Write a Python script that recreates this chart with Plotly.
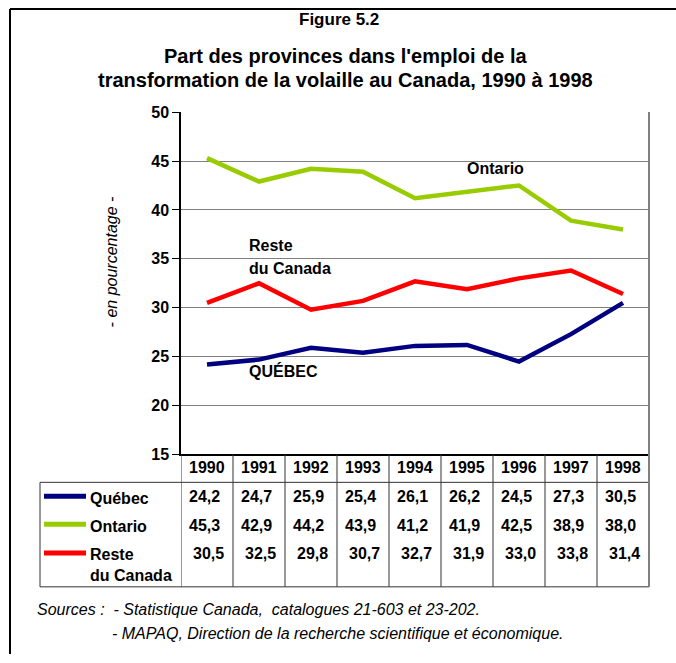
import plotly.graph_objects as go

W, H = 676, 663

years = [1990, 1991, 1992, 1993, 1994, 1995, 1996, 1997, 1998]
quebec = [24.2, 24.7, 25.9, 25.4, 26.1, 26.2, 24.5, 27.3, 30.5]
ontario = [45.3, 42.9, 44.2, 43.9, 41.2, 41.9, 42.5, 38.9, 38.0]
reste = [30.5, 32.5, 29.8, 30.7, 32.7, 31.9, 33.0, 33.8, 31.4]

series_names = ["Québec", "Ontario", "Reste<br>du Canada"]
series_colors = ["#000080", "#99CC00", "#FF0000"]
y_ticks = [15, 20, 25, 30, 35, 40, 45, 50]

FONT = "Arial, Liberation Sans, sans-serif"
FS = 16

# vertical calibration of the photographed page
V_OFF, V_SCALE = 6.4, 0.979


def X(px):
    return px / W


def Y(py):
    spec = (py - V_OFF) / V_SCALE
    return 1 - spec / H


fig = go.Figure()
for name, vals, col in zip(series_names, [quebec, ontario, reste], series_colors):
    fig.add_trace(go.Scatter(x=years, y=vals, mode="lines", name=name,
                             line=dict(color=col, width=4.5), showlegend=False,
                             hoverinfo="skip"))

ann = []
shapes = []


def txt(text, px, py, size=FS, xanchor="center", italic=False, bold=True, **kw):
    t = text
    if bold:
        t = "<b>" + t + "</b>"
    if italic:
        t = "<i>" + t + "</i>"
    d = dict(text=t, x=X(px), y=Y(py), xref="paper", yref="paper", showarrow=False,
             xanchor=xanchor, yanchor="middle",
             font=dict(size=size, color="black", family=FONT))
    d.update(kw)
    ann.append(d)


# Titles
txt("Figure 5.2", 339, 18, size=17)
txt("Part des provinces dans l'emploi de la", 346, 55, size=20)
txt("transformation de la volaille au Canada, 1990 à 1998", 346, 79, size=20)

# Y axis title
txt("- en pourcentage -", 111, 262, size=16, italic=True, bold=False, textangle=-90)

# In-plot labels
txt("Ontario", 495, 168)
txt("Reste", 247, 245, xanchor="left")
txt("du Canada", 247, 268, xanchor="left")
txt("QUÉBEC", 247, 371, xanchor="left")

# Data table
TBL_TOP, HDR_BOT, TBL_BOT = 455, 483, 588
TBL_LEFT, TBL_RIGHT = 40, 649
tfont = dict(size=FS, color="black", family=FONT)
for i, yr in enumerate(years):
    ann.append(dict(text=f"<b>{yr}</b>", x=yr, y=Y(468), xref="x", yref="paper",
                    xanchor="center", yanchor="middle", showarrow=False, font=tfont))
    for vals, py, xs in [(quebec, 497, -3), (ontario, 526, -3), (reste, 555, 1)]:
        ann.append(dict(text="<b>" + f"{vals[i]:.1f}".replace(".", ",") + "</b>", x=yr,
                        y=Y(py), xref="x", yref="paper", xshift=xs, showarrow=False,
                        xanchor="center", yanchor="middle", font=tfont))

row_y = [499, 527, 556]
for (name, col, py) in zip(series_names, series_colors, row_y):
    if "<br>" in name:
        first, second = name.split("<br>")
        txt(first, 88, py, xanchor="left")
        txt(second, 88, py + 21, xanchor="left")
    else:
        txt(name, 88, py, xanchor="left")
    shapes.append(dict(type="line", xref="paper", yref="paper", x0=X(44), x1=X(86),
                       y0=Y(py - 2), y1=Y(py - 2), line=dict(color=col, width=5)))

line_col = "#333333"
# table box (data rows)
shapes.append(dict(type="rect", xref="paper", yref="paper", x0=X(TBL_LEFT), x1=X(TBL_RIGHT),
                   y0=Y(HDR_BOT), y1=Y(TBL_BOT), line=dict(color=line_col, width=1)))
# vertical separators
for yr in years:
    shapes.append(dict(type="line", xref="x", yref="paper", x0=yr - 0.5, x1=yr - 0.5,
                       y0=Y(TBL_TOP), y1=Y(TBL_BOT), line=dict(color=line_col, width=1)))
# right border (plot + table)
shapes.append(dict(type="line", xref="paper", yref="paper", x0=X(649), x1=X(649),
                   y0=Y(111), y1=Y(TBL_BOT), line=dict(color="#808080", width=2)))

# Outer frame (left and top)
shapes.append(dict(type="line", xref="paper", yref="paper", x0=X(10), x1=X(10),
                   y0=Y(7.5), y1=0, line=dict(color="black", width=2)))
shapes.append(dict(type="line", xref="paper", yref="paper", x0=X(10), x1=1,
                   y0=Y(7.5), y1=Y(7.5), line=dict(color="black", width=2)))

# Sources
txt("Sources :  - Statistique Canada,  catalogues 21-603 et 23-202.", 35, 611, size=16,
    xanchor="left", italic=True, bold=False)
txt("- MAPAQ, Direction de la recherche scientifique et économique.", 110, 635, size=16,
    xanchor="left", italic=True, bold=False)

fig.update_layout(
    width=W, height=H, autosize=False,
    margin=dict(l=0, r=0, t=0, b=0, pad=0),
    paper_bgcolor="white", plot_bgcolor="white",
    annotations=ann, shapes=shapes,
    xaxis=dict(domain=[X(181), X(649)], range=[1989.5, 1998.5], showticklabels=False,
               showgrid=False, zeroline=False, showline=True, linecolor="black",
               linewidth=1.5, ticks=""),
    yaxis=dict(domain=[Y(455), Y(111)], range=[15, 50], tickvals=y_ticks,
               showgrid=True, gridcolor="#808080", gridwidth=1, zeroline=False,
               showline=True, linecolor="black", linewidth=1.5, ticks="outside",
               ticklen=7, tickcolor="black", tickwidth=1,
               tickfont=dict(size=16, color="black", family=FONT, weight="bold")),
)

post = (
    "var d=document.documentElement,b=document.body;"
    "d.style.margin='0';d.style.padding='0';d.style.overflow='hidden';"
    "b.style.margin='0';b.style.padding='0';b.style.overflow='hidden';"
)
fig.write_html("out.html", config={"displayModeBar": False, "responsive": False},
               post_script=post)
